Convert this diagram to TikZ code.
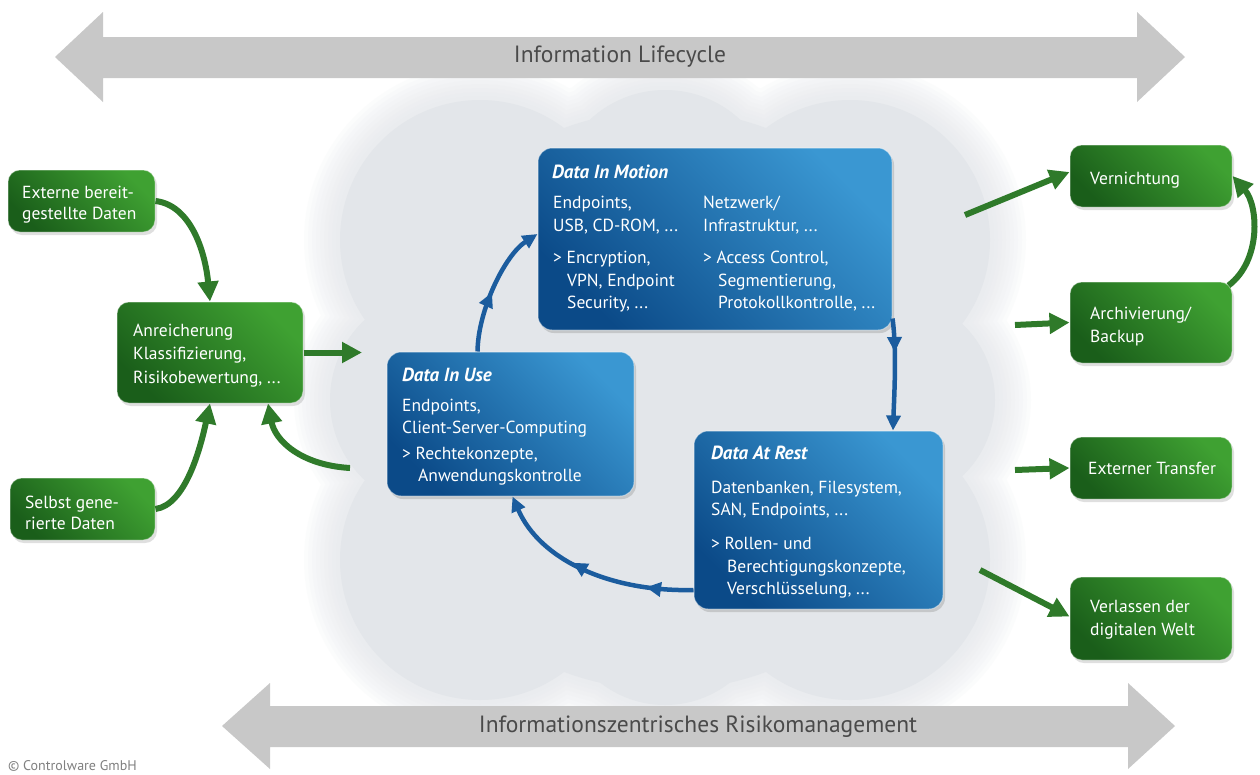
\documentclass[tikz,border=0pt]{standalone}
\usepackage{fontspec}
\setmainfont{PT Sans}
\usetikzlibrary{arrows.meta,decorations.markings,shadows}
\definecolor{bDark}{HTML}{0B4A88}
\definecolor{bLight}{HTML}{3A97D2}
\definecolor{gDark}{HTML}{1A5E1A}
\definecolor{gLight}{HTML}{3FA132}
\definecolor{garrow}{HTML}{2F7A2A}
\definecolor{barrow}{HTML}{1B5C9E}
\definecolor{cloudc}{HTML}{E3E6EA}
\definecolor{arrowgray}{HTML}{C8C8C8}
\definecolor{labelgray}{HTML}{4A4A4A}
\newcommand\cloudshape[1]{%
  (665pt,-400pt) circle[radius=290pt+#1]
  (480pt,-240pt) circle[radius=140pt+#1]
  (850pt,-240pt) circle[radius=140pt+#1]
  (480pt,-560pt) circle[radius=140pt+#1]
  (850pt,-560pt) circle[radius=140pt+#1]
  (665pt,-200pt) circle[radius=110pt+#1]
  (665pt,-600pt) circle[radius=105pt+#1]
  (440pt,-400pt) circle[radius=110pt+#1]
  (890pt,-400pt) circle[radius=105pt+#1]}
\begin{document}
\begin{tikzpicture}[x=1pt,y=1pt,
  bluebox/.style={rounded corners=14pt, left color=bDark, right color=bLight, shading angle=135,
    draw=white, draw opacity=0.45, line width=1pt, inner sep=0pt,
    drop shadow={shadow xshift=2pt, shadow yshift=-3pt, opacity=0.3}},
  greenbox/.style={rounded corners=12pt, left color=gDark, right color=gLight, shading angle=135,
    draw=white, draw opacity=0.35, line width=1pt, inner sep=0pt, minimum width=162pt,
    drop shadow={shadow xshift=2pt, shadow yshift=-3pt, opacity=0.25}},
  btxt/.style={anchor=base west, text=white, inner sep=0pt, font=\fontsize{17.5}{20}\selectfont},
  btitle/.style={anchor=base west, text=white, inner sep=0pt, font=\fontsize{19}{21}\selectfont\bfseries\itshape},
  gtxt/.style={anchor=base west, text=white, inner sep=0pt, font=\fontsize{17.5}{20}\selectfont},
  bigarrow/.style={fill=arrowgray, draw=none},
  biglabel/.style={text=labelgray, inner sep=0pt, font=\fontsize{23.5}{26}\selectfont},
  garr/.style={draw=garrow, line width=6pt, -{Triangle[length=20pt,width=20pt]}},
  barr/.style={draw=barrow, line width=4.5pt, -{Triangle[length=15pt,width=14pt]}},
  bmark/.style={postaction={decorate, decoration={markings,
    mark=at position #1 with {\arrow{Triangle[length=15pt,width=14pt]}}}}}
]
\useasboundingbox (0,0) rectangle (1260,-774);
\fill[white] (0,0) rectangle (1260,-774);

% cloud (soft edged)
\foreach \r in {36,32,28,24,20,16,12,8,4}{
  \fill[cloudc, opacity=0.11] \cloudshape{\r pt};
}
\fill[cloudc] \cloudshape{0pt};

% big gray double arrows
\fill[bigarrow] (55,-57) -- (103,-12) -- (103,-37) -- (1137,-37) -- (1137,-12) -- (1185,-57)
  -- (1137,-102) -- (1137,-78) -- (103,-78) -- (103,-102) -- cycle;
\node[biglabel] (lifecycle) at (620,-57) {Information Lifecycle};
\fill[bigarrow] (222,-726) -- (270,-683) -- (270,-706) -- (1128,-706) -- (1128,-683) -- (1175,-726)
  -- (1128,-769) -- (1128,-747) -- (270,-747) -- (270,-769) -- cycle;
\node[biglabel] (risk) at (698,-727) {Informationszentrisches Risikomanagement};

% blue boxes
\node[bluebox, minimum width=354pt, minimum height=182pt] (dim) at (715,-239) {};
\node[bluebox, minimum width=247pt, minimum height=144pt] (diu) at (510.5,-424) {};
\node[bluebox, minimum width=249pt, minimum height=178pt] (dar) at (818.5,-520) {};

% Data In Motion text
\node[btitle] (dimT) at (552,-178) {Data In Motion};
\node[btxt] (dimA1) at (553,-208) {Endpoints,};
\node[btxt] (dimA2) at (553,-231) {USB, CD-ROM, ...};
\node[btxt] (dimA3) at (553,-263) {> Encryption,};
\node[btxt] (dimA4) at (567,-286) {VPN, Endpoint};
\node[btxt] (dimA5) at (567,-308) {Security, ...};
\node[btxt] (dimB1) at (703,-208) {Netzwerk/};
\node[btxt] (dimB2) at (703,-231) {Infrastruktur, ...};
\node[btxt] (dimB3) at (703,-263) {> Access Control,};
\node[btxt] (dimB4) at (718,-286) {Segmentierung,};
\node[btxt] (dimB5) at (718,-308) {Protokollkontrolle, ...};

% Data In Use text
\node[btitle] (diuT) at (402,-381) {Data In Use};
\node[btxt] (diu1) at (402,-411) {Endpoints,};
\node[btxt] (diu2) at (402,-433) {Client-Server-Computing};
\node[btxt] (diu3) at (402,-459) {> Rechtekonzepte,};
\node[btxt] (diu4) at (418,-481) {Anwendungskontrolle};

% Data At Rest text
\node[btitle] (darT) at (711,-459) {Data At Rest};
\node[btxt] (dar1) at (711,-493) {Datenbanken, Filesystem,};
\node[btxt] (dar2) at (711,-515) {SAN, Endpoints, ...};
\node[btxt] (dar3) at (711,-549) {> Rollen- und};
\node[btxt] (dar4) at (727,-572) {Berechtigungskonzepte,};
\node[btxt] (dar5) at (727,-594) {Verschlüsselung, ...};

% blue cycle arrows
\draw[barr, bmark=0.45] ([xshift=-33pt]diu.north) .. controls (478,-310) and (505,-255) .. ([yshift=5pt]dim.west);
\draw[barr, bmark=0.3] ([yshift=12pt]dim.south east) .. controls (897,-350) and (894,-400) .. ([xshift=74.5pt]dar.north);
\draw[barr, bmark=0.22, bmark=0.58] ([yshift=-70pt]dar.west) .. controls (610,-592) and (540,-560) .. ([xshift=2pt]diu.south);

% green boxes
\node[greenbox, minimum width=147pt, minimum height=62pt] (ext) at (81.5,-201) {};
\node[gtxt] (ext1) at (22,-198) {Externe bereit-};
\node[gtxt] (ext2) at (22,-219) {gestellte Daten};
\node[greenbox, minimum width=186pt, minimum height=101pt] (anr) at (210,-352.5) {};
\node[gtxt] (anr1) at (133,-336) {Anreicherung};
\node[gtxt] (anr2) at (133,-359) {Klassifizierung,};
\node[gtxt] (anr3) at (133,-383) {Risikobewertung, ...};
\node[greenbox, minimum width=145pt, minimum height=62pt] (sel) at (82.5,-509) {};
\node[gtxt] (sel1) at (25,-508) {Selbst gene-};
\node[gtxt] (sel2) at (25,-529) {rierte Daten};

\node[greenbox, minimum height=62pt] (vern) at (1151,-176) {};
\node[gtxt] (vern1) at (1090,-184) {Vernichtung};
\node[greenbox, minimum height=81pt] (arch) at (1151,-322.5) {};
\node[gtxt] (arch1) at (1090,-319) {Archivierung/};
\node[gtxt] (arch2) at (1090,-342) {Backup};
\node[greenbox, minimum height=62pt] (xfer) at (1151,-468) {};
\node[gtxt] (xfer1) at (1088,-474) {Externer Transfer};
\node[greenbox, minimum height=83pt] (verl) at (1151,-618.5) {};
\node[gtxt] (verl1) at (1090,-612) {Verlassen der};
\node[gtxt] (verl2) at (1090,-635) {digitalen Welt};

% green arrows
\coordinate (cloudL) at (350,-468);
\coordinate (cloudR) at (362,-352.5);
\coordinate (oV) at (965,-215);
\coordinate (oA) at (1015,-325);
\coordinate (oX) at (1015,-470);
\coordinate (oL) at (980,-570);
\draw[garr] (ext.east) .. controls (190,-205) and (205,-250) .. (anr.north);
\draw[garr] (sel.east) .. controls (185,-505) and (200,-450) .. (anr.south);
\draw[garr] (cloudL) .. controls (300,-465) and (275,-440) .. ([xshift=58pt]anr.south);
\draw[garr] (anr.east) -- (cloudR);
\draw[garr] (oV) -- ([yshift=4pt]vern.west);
\draw[garr] (oA) -- (arch.west);
\draw[garr] (oX) -- (xfer.west);
\draw[garr] (oL) -- ([yshift=2pt]verl.west);
\draw[garr] ([shift={(-4pt,-4pt)}]arch.north east) .. controls (1262,-260) and (1258,-205) .. (vern.east);

\node[anchor=base west, inner sep=0pt, text=gray, font=\fontsize{14}{15}\selectfont] (copy) at (8,-770) {© Controlware GmbH};
\end{tikzpicture}
\end{document}
